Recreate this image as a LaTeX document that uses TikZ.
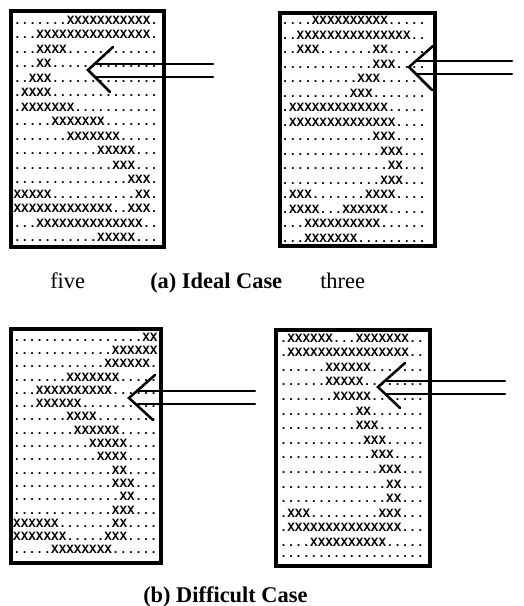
\documentclass[tikz,border=0pt]{standalone}
\usepackage{fontspec}
\setmainfont{Liberation Serif}
\newfontfamily\bitfont{Liberation Mono}
% one line of a character bitmap: name, x, y, text
\newcommand\bitrow[4]{\node[cellrow] (#1) at (#2,#3) {#4};}
\begin{document}
\begin{tikzpicture}[x=0.75pt,y=-0.75pt,
  frame/.style={draw=black,line width=2.4pt},
  cellrow/.style={anchor=west,inner sep=0pt,font=\fontsize{9.5}{9.5}\selectfont\bitfont\bfseries},
  arrowline/.style={draw=black,line width=1.9pt,line cap=round},
  caption/.style={anchor=base west,inner sep=0pt,font=\fontsize{16.8}{16.8}\selectfont}]
\useasboundingbox (0,0) rectangle (524,606);

% bitmap frames
\draw[frame] (11,11) rectangle (164,247);
\draw[frame] (280,13) rectangle (435,246);
\draw[frame] (11,329) rectangle (161,563);
\draw[frame] (276,330) rectangle (430,566);

% digit five, ideal
\bitrow{fa1}{13.3}{20}{.......XXXXXXXXXXX.}
\bitrow{fa2}{13.3}{34.5}{...XXXXXXXXXXXXXXX.}
\bitrow{fa3}{13.3}{49}{...XXXX............}
\bitrow{fa4}{13.3}{63.5}{...XX..............}
\bitrow{fa5}{13.3}{78}{..XXX..............}
\bitrow{fa6}{13.3}{92.5}{.XXXX..............}
\bitrow{fa7}{13.3}{107}{.XXXXXXX...........}
\bitrow{fa8}{13.3}{121.5}{.....XXXXXXX.......}
\bitrow{fa9}{13.3}{136}{.......XXXXXXX.....}
\bitrow{fa10}{13.3}{150.5}{...........XXXXX...}
\bitrow{fa11}{13.3}{165}{.............XXX...}
\bitrow{fa12}{13.3}{179.5}{...............XXX.}
\bitrow{fa13}{13.3}{194}{XXXXX...........XX.}
\bitrow{fa14}{13.3}{208.5}{XXXXXXXXXXXXX..XXX.}
\bitrow{fa15}{13.3}{223}{...XXXXXXXXXXXXXX..}
\bitrow{fa16}{13.3}{237.5}{...........XXXXX...}

% digit three, ideal
\bitrow{ta1}{281.2}{20.5}{....XXXXXXXXXX.....}
\bitrow{ta2}{281.2}{35}{..XXXXXXXXXXXXXXX..}
\bitrow{ta3}{281.2}{49.5}{..XXX.......XX.....}
\bitrow{ta4}{281.2}{64}{............XXX....}
\bitrow{ta5}{281.2}{78.5}{..........XXX......}
\bitrow{ta6}{281.2}{93}{.........XXX.......}
\bitrow{ta7}{281.2}{107.5}{.XXXXXXXXXXXXX.....}
\bitrow{ta8}{281.2}{122}{.XXXXXXXXXXXXXX....}
\bitrow{ta9}{281.2}{136.5}{............XXX....}
\bitrow{ta10}{281.2}{151}{.............XXX...}
\bitrow{ta11}{281.2}{165.5}{..............XX...}
\bitrow{ta12}{281.2}{180}{.............XXX...}
\bitrow{ta13}{281.2}{194.5}{.XXX.......XXXX....}
\bitrow{ta14}{281.2}{209}{.XXXX...XXXXXX.....}
\bitrow{ta15}{281.2}{223.5}{...XXXXXXXXXX......}
\bitrow{ta16}{281.2}{238}{...XXXXXXX.........}

% digit five, difficult
\bitrow{fb1}{12.9}{337}{.................XX}
\bitrow{fb2}{12.9}{350.3}{.............XXXXXX}
\bitrow{fb3}{12.9}{363.6}{............XXXXXX.}
\bitrow{fb4}{12.9}{376.9}{.......XXXXXXX.....}
\bitrow{fb5}{12.9}{390.2}{...XXXXXXXXXX......}
\bitrow{fb6}{12.9}{403.5}{...XXXXXX..........}
\bitrow{fb7}{12.9}{416.8}{.......XXXX........}
\bitrow{fb8}{12.9}{430.1}{........XXXXXX.....}
\bitrow{fb9}{12.9}{443.4}{..........XXXXX....}
\bitrow{fb10}{12.9}{456.7}{...........XXXX....}
\bitrow{fb11}{12.9}{470}{.............XX....}
\bitrow{fb12}{12.9}{483.3}{.............XXX...}
\bitrow{fb13}{12.9}{496.6}{..............XX...}
\bitrow{fb14}{12.9}{509.9}{.............XXX...}
\bitrow{fb15}{12.9}{523.2}{XXXXXX.......XX....}
\bitrow{fb16}{12.9}{536.5}{XXXXXXX.....XXX....}
\bitrow{fb17}{12.9}{549.8}{.....XXXXXXXX......}

% digit three, difficult
\bitrow{tb1}{279.5}{338}{.XXXXXX...XXXXXXX..}
\bitrow{tb2}{279.5}{352.6}{.XXXXXXXXXXXXXXXX..}
\bitrow{tb3}{279.5}{367.2}{......XXXXXX.......}
\bitrow{tb4}{279.5}{381.8}{......XXXXX........}
\bitrow{tb5}{279.5}{396.4}{.......XXXXX.......}
\bitrow{tb6}{279.5}{411}{..........XX.......}
\bitrow{tb7}{279.5}{425.6}{..........XXX......}
\bitrow{tb8}{279.5}{440.2}{...........XXX.....}
\bitrow{tb9}{279.5}{454.8}{............XXX....}
\bitrow{tb10}{279.5}{469.4}{.............XXX...}
\bitrow{tb11}{279.5}{484}{..............XX...}
\bitrow{tb12}{279.5}{498.6}{..............XX...}
\bitrow{tb13}{279.5}{513.2}{.XXX.........XXX...}
\bitrow{tb14}{279.5}{527.8}{.XXXXXXXXXXXXXXX...}
\bitrow{tb15}{279.5}{542.4}{....XXXXXXXXXX.....}
\bitrow{tb16}{279.5}{557}{...................}

% pointer arrows
\coordinate (tipA) at (88,70);   \coordinate (upA) at (113,47);  \coordinate (dnA) at (110,92);
\coordinate (a1s) at (96,64);    \coordinate (a1e) at (213,64);
\coordinate (a2s) at (96,77);    \coordinate (a2e) at (213,77);
\draw[arrowline] (upA) -- (tipA) -- (dnA);
\draw[arrowline] (a1s) -- (a1e);
\draw[arrowline] (a2s) -- (a2e);

\coordinate (tipB) at (409,67);  \coordinate (upB) at (433,46);  \coordinate (dnB) at (432,90);
\coordinate (b1s) at (416,61);   \coordinate (b1e) at (512,61);
\coordinate (b2s) at (416,74);   \coordinate (b2e) at (512,74);
\draw[arrowline] (upB) -- (tipB) -- (dnB);
\draw[arrowline] (b1s) -- (b1e);
\draw[arrowline] (b2s) -- (b2e);

\coordinate (tipC) at (129,398); \coordinate (upC) at (155,375); \coordinate (dnC) at (153,420);
\coordinate (c1s) at (138,391);  \coordinate (c1e) at (255,391);
\coordinate (c2s) at (138,404);  \coordinate (c2e) at (255,404);
\draw[arrowline] (upC) -- (tipC) -- (dnC);
\draw[arrowline] (c1s) -- (c1e);
\draw[arrowline] (c2s) -- (c2e);

\coordinate (tipD) at (378,387); \coordinate (upD) at (405,363); \coordinate (dnD) at (400,408);
\coordinate (d1s) at (386,381);  \coordinate (d1e) at (505,381);
\coordinate (d2s) at (386,394);  \coordinate (d2e) at (505,394);
\draw[arrowline] (upD) -- (tipD) -- (dnD);
\draw[arrowline] (d1s) -- (d1e);
\draw[arrowline] (d2s) -- (d2e);

% captions
\node[caption] (lfive) at (50,288) {five};
\node[caption] (lidea) at (150,288) {\bfseries (a) Ideal Case};
\node[caption] (lthree) at (320,288) {three};
\node[caption] (ldiff) at (143,602) {\bfseries (b) Difficult Case};
\end{tikzpicture}
\end{document}
